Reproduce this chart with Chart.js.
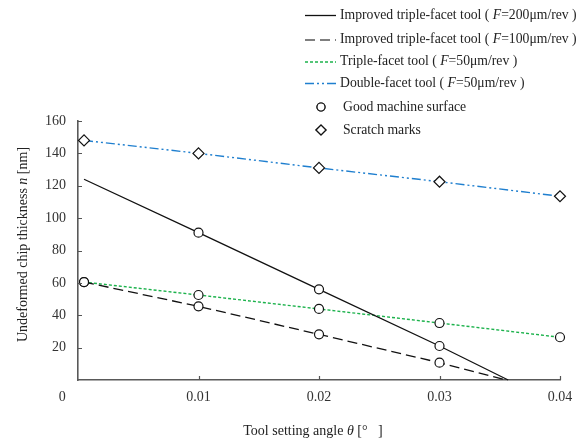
<!DOCTYPE html>
<html>
<head>
<meta charset="utf-8">
<script src="https://cdn.jsdelivr.net/npm/chart.js@4"></script>
<style>
  html, body { margin: 0; padding: 0; background: #fff; }
  #wrap { width: 585px; height: 440px; }
</style>
</head>
<body>
<div id="wrap"><canvas id="chip-chart" width="585" height="440"></canvas></div>
<script>
// setting angles (deg) where the chip thickness was measured
const angles = [0.0005, 0.01, 0.02, 0.03, 0.04];
// undeformed chip thickness n [nm] per tool
const improvedF200 = [124, 91, 56, 21];
const improvedF100 = [60.5, 45.5, 28.2, 10.7];
const tripleF50 = [60.5, 52.5, 43.9, 35.2, 26.4];
const doubleF50 = [148, 140, 131, 122.5, 113.5];
// angle where the improved-tool lines reach n = 0
const zeroAngleF200 = 0.0357;
const zeroAngleF100 = 0.0355;

const xTicks = [0, 0.01, 0.02, 0.03, 0.04];
const yTicks = [20, 40, 60, 80, 100, 120, 140, 160];

const legendNames = [
  ['Improved triple-facet tool ( ', 'F', '=200μm/rev )'],
  ['Improved triple-facet tool ( ', 'F', '=100μm/rev )'],
  ['Triple-facet tool ( ', 'F', '=50μm/rev )'],
  ['Double-facet tool ( ', 'F', '=50μm/rev )']
];
const markerNames = ['Good machine surface', 'Scratch marks'];

const serif = "'Liberation Serif', 'Times New Roman', serif";
const textColor = '#222';

const pts = (ys, end) => {
  const out = ys.map((y, i) => ({ x: angles[i], y: y }));
  if (end !== undefined) out.push({ x: end, y: 0 });
  return out;
};

const datasets = [
  {
    label: 'F200',
    data: pts(improvedF200, zeroAngleF200),
    borderColor: '#111',
    borderWidth: 1.3,
    borderDash: [],
    pointStyle: 'circle',
    pointRadius: [0, 4.5, 4.5, 4.5, 0]
  },
  {
    label: 'F100',
    data: pts(improvedF100, zeroAngleF100),
    borderColor: '#111',
    borderWidth: 1.3,
    borderDash: [10, 5],
    pointStyle: 'circle',
    pointRadius: [4.5, 4.5, 4.5, 4.5, 0]
  },
  {
    label: 'triple',
    data: pts(tripleF50),
    borderColor: '#1cb24c',
    borderWidth: 1.4,
    borderDash: [3, 2],
    pointStyle: 'circle',
    pointRadius: 4.5
  },
  {
    label: 'double',
    data: pts(doubleF50),
    borderColor: '#1f7fcf',
    borderWidth: 1.4,
    borderDash: [9, 3, 2, 3, 2, 3],
    pointStyle: 'rectRot',
    pointRadius: 5.5
  }
];
datasets.forEach(d => {
  d.showLine = true;
  d.tension = 0;
  d.fill = false;
  d.clip = false;
  d.pointBackgroundColor = '#fff';
  d.pointBorderColor = '#111';
  d.pointBorderWidth = 1.2;
});

// draw text made of pieces, odd pieces in italics
function richText(ctx, parts, x, y, size, align) {
  const fonts = parts.map((p, i) => (i % 2 ? 'italic ' : '') + size + 'px ' + serif);
  let total = 0;
  const widths = parts.map((p, i) => { ctx.font = fonts[i]; const w = ctx.measureText(p).width; total += w; return w; });
  let cx = align === 'center' ? x - total / 2 : x;
  ctx.textAlign = 'left';
  ctx.textBaseline = 'middle';
  ctx.fillStyle = textColor;
  parts.forEach((p, i) => { ctx.font = fonts[i]; ctx.fillText(p, cx, y); cx += widths[i]; });
}

const decorations = {
  id: 'decorations',
  afterDraw(chart) {
    const ctx = chart.ctx;
    const area = chart.chartArea;
    const xs = chart.scales.x, ys = chart.scales.y;
    ctx.save();

    // short tick marks pointing into the plot
    ctx.strokeStyle = '#555';
    ctx.lineWidth = 1.2;
    ctx.setLineDash([]);
    ctx.beginPath();
    xTicks.slice(1).forEach(v => {
      const px = Math.round(xs.getPixelForValue(v)) + 0.5;
      ctx.moveTo(px, area.bottom); ctx.lineTo(px, area.bottom - 4);
    });
    yTicks.forEach(v => {
      const py = Math.round(ys.getPixelForValue(v)) + 0.5;
      ctx.moveTo(area.left, py); ctx.lineTo(area.left + 4, py);
    });
    ctx.stroke();

    // axis titles
    richText(ctx, ['Tool setting angle ', 'θ', ' [°   ]'], (area.left + area.right) / 2 - 6, 431, 14, 'center');
    ctx.save();
    ctx.translate(23, (area.top + area.bottom) / 2 - 6);
    ctx.rotate(-Math.PI / 2);
    richText(ctx, ['Undeformed chip thickness ', 'n', ' [nm]'], 0, 0, 14, 'center');
    ctx.restore();

    // legend: line samples
    const rows = [15, 39.5, 61.5, 83];
    chart.data.datasets.forEach((d, i) => {
      ctx.strokeStyle = i === 1 ? '#555' : d.borderColor;
      ctx.lineWidth = d.borderWidth;
      ctx.setLineDash(d.borderDash);
      ctx.beginPath();
      ctx.moveTo(305, rows[i] + 0.5);
      ctx.lineTo(336, rows[i] + 0.5);
      ctx.stroke();
      richText(ctx, legendNames[i], 340, rows[i], 13.7, 'left');
    });
    ctx.setLineDash([]);

    // legend: marker entries
    const mRows = [107, 130];
    const styles = ['circle', 'rectRot'];
    mRows.forEach((y, i) => {
      ctx.fillStyle = '#fff';
      ctx.strokeStyle = '#111';
      ctx.lineWidth = 1.2;
      Chart.helpers.drawPoint(ctx, { pointStyle: styles[i], radius: i ? 5 : 4, borderWidth: 1.2 }, 321, y);
      ctx.fill();
      ctx.stroke();
      richText(ctx, [markerNames[i]], 343, y, 13.7, 'left');
    });

    ctx.restore();
  }
};

new Chart(document.getElementById('chip-chart'), {
  type: 'scatter',
  data: { datasets: datasets },
  options: {
    responsive: false,
    animation: false,
    layout: { padding: { top: 121, right: 25, left: 0, bottom: 0 } },
    plugins: {
      legend: { display: false },
      tooltip: { enabled: false }
    },
    scales: {
      x: {
        type: 'linear',
        min: 0,
        max: 0.04,
        afterFit: s => { s.height = 60; },
        afterBuildTicks: s => { s.ticks = xTicks.map(v => ({ value: v })); },
        grid: { display: false, drawTicks: false },
        border: { display: true, color: '#595959', width: 1.6 },
        ticks: {
          padding: 9,
          color: '#333',
          font: { family: serif, size: 14 },
          maxRotation: 0,
          // the origin label sits left of the corner, trailing spaces push it over
          callback: v => v === 0 ? '0         ' : v.toFixed(2)
        }
      },
      y: {
        min: 0,
        max: 160,
        afterFit: s => { s.width = 78; },
        afterBuildTicks: s => { s.ticks = yTicks.map(v => ({ value: v })); },
        grid: { display: false, drawTicks: false },
        border: { display: true, color: '#595959', width: 1.6 },
        ticks: {
          padding: 12,
          color: '#333',
          font: { family: serif, size: 14 },
          callback: v => String(v)
        }
      }
    }
  },
  plugins: [decorations]
});
</script>
</body>
</html>
